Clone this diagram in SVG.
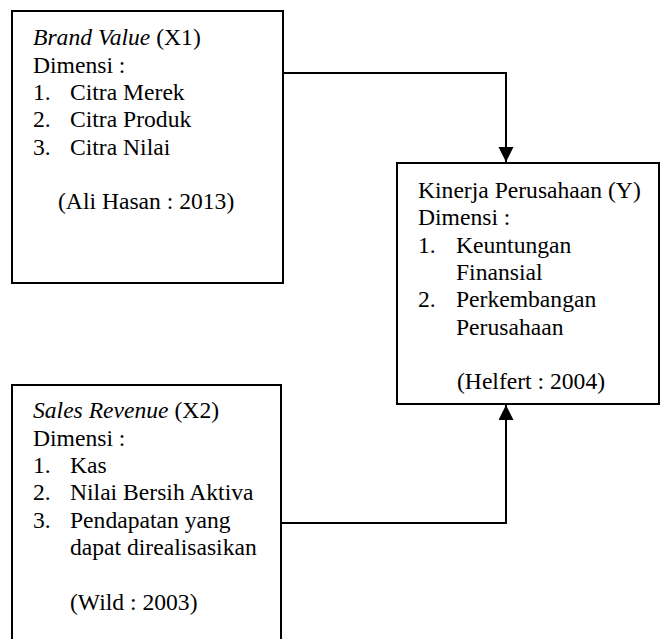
<svg xmlns="http://www.w3.org/2000/svg" width="660" height="639" viewBox="0 0 660 639">
<defs>
<style>
.box{fill:#fff;stroke:#000;stroke-width:2}
.t{font-family:"Liberation Serif","Times New Roman",serif;font-size:23.6px;fill:#000}
.i{font-style:italic}
.c{fill:none;stroke:#000;stroke-width:2}
</style>
<marker id="ah" markerUnits="userSpaceOnUse" markerWidth="16" markerHeight="17" refX="15" refY="7.5" orient="auto">
<path d="M0,0 L15,7.5 L0,15 Z" fill="#000"/>
</marker>
</defs>
<g id="connectors">
<path class="c" d="M283,73 H506 V162" marker-end="url(#ah)"/>
<path class="c" d="M281,523 H506 V405" marker-end="url(#ah)"/>
</g>
<g id="x1">
<rect class="box" x="12" y="11" width="271" height="272"/>
<text class="t" x="33" y="45"><tspan class="i">Brand Value</tspan> (X1)</text>
<text class="t" x="33" y="73">Dimensi :</text>
<text class="t" x="33" y="100">1.</text><text class="t" x="70" y="100">Citra Merek</text>
<text class="t" x="33" y="127">2.</text><text class="t" x="70" y="127">Citra Produk</text>
<text class="t" x="33" y="155">3.</text><text class="t" x="70" y="155">Citra Nilai</text>
<text class="t" x="58" y="209">(Ali Hasan : 2013)</text>
</g>
<g id="y">
<rect class="box" x="397" y="163" width="262" height="241"/>
<text class="t" x="418" y="198">Kinerja Perusahaan (Y)</text>
<text class="t" x="418" y="225">Dimensi :</text>
<text class="t" x="418" y="253">1.</text><text class="t" x="456" y="253">Keuntungan</text>
<text class="t" x="456" y="280">Finansial</text>
<text class="t" x="418" y="307">2.</text><text class="t" x="456" y="307">Perkembangan</text>
<text class="t" x="456" y="335">Perusahaan</text>
<text class="t" x="457" y="389">(Helfert : 2004)</text>
</g>
<g id="x2">
<rect class="box" x="12" y="385" width="269" height="270"/>
<text class="t" x="33" y="418"><tspan class="i">Sales Revenue</tspan> (X2)</text>
<text class="t" x="33" y="446">Dimensi :</text>
<text class="t" x="33" y="473">1.</text><text class="t" x="70" y="473">Kas</text>
<text class="t" x="33" y="500">2.</text><text class="t" x="70" y="500">Nilai Bersih Aktiva</text>
<text class="t" x="33" y="528">3.</text><text class="t" x="70" y="528">Pendapatan yang</text>
<text class="t" x="70" y="555">dapat direalisasikan</text>
<text class="t" x="70" y="610">(Wild : 2003)</text>
</g>
</svg>
